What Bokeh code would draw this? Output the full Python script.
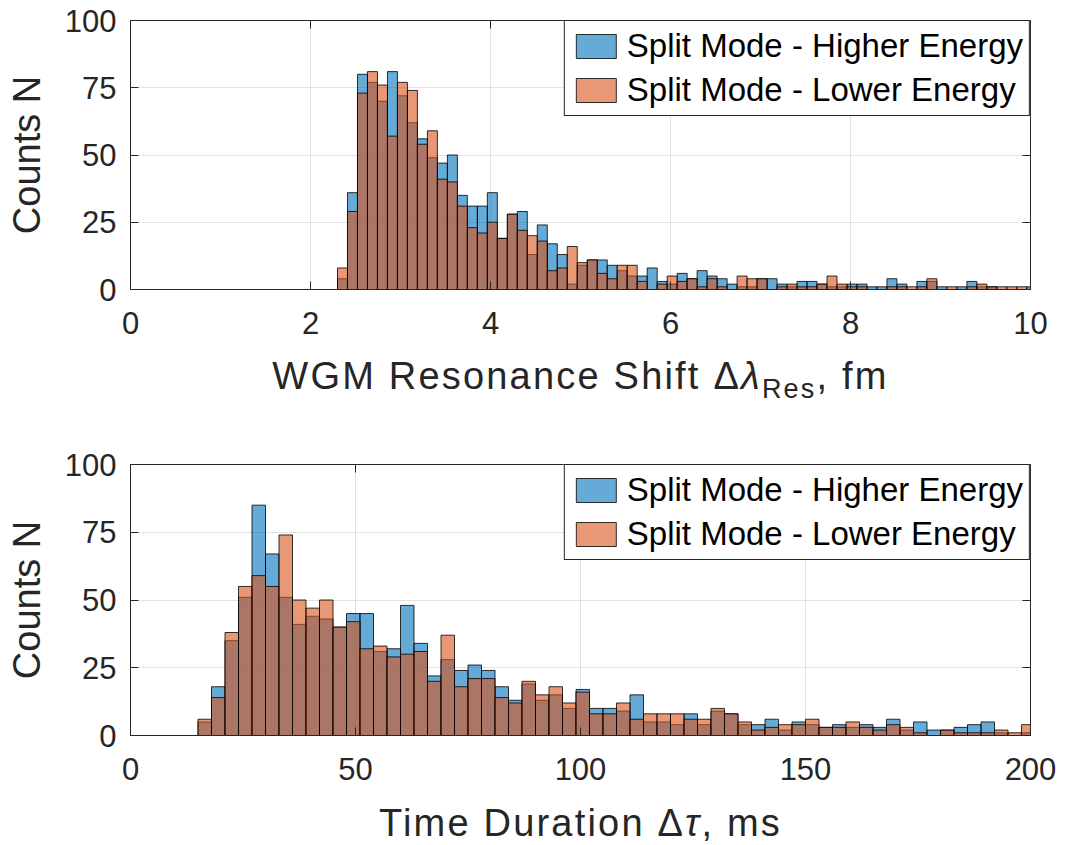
import numpy as np
from bokeh.plotting import figure
from bokeh.models import (ColumnDataSource, Range1d, FixedTicker, LinearAxis, Div,
                          Legend, LegendItem, CustomJSTickFormatter)
from bokeh.layouts import column
from bokeh.embed import file_html
from bokeh.resources import INLINE

# ---------------- data ----------------
shift_bin_start = 2.30
shift_bin_width = 0.111
shift_higher = [4, 36, 80, 77, 70, 81, 72, 62, 56, 49, 47, 50, 35, 31, 31, 36, 19, 28, 29, 13, 24, 17, 13,
                2, 9, 11, 11, 9, 7, 5, 5, 8, 3, 2, 6, 4, 7, 5, 4, 2, 1, 1, 4, 4, 2,
                1, 3, 3, 2, 1, 1, 2, 2, 1, 1, 4, 2, 0, 3, 3, 1, 0, 1, 3, 1, 1, 0, 0, 0, 1]
shift_lower = [8, 29, 73, 81, 76, 57, 77, 74, 54, 59, 41, 40, 31, 23, 21, 25, 19, 28, 22, 20, 18, 7, 8,
               16, 10, 11, 6, 4, 9, 9, 3, 0, 2, 5, 3, 4, 1, 4, 1, 0, 5, 4, 4, 0, 1,
               2, 1, 1, 2, 5, 2, 1, 1, 0, 0, 1, 1, 1, 1, 4, 0, 1, 0, 1, 2, 1, 1, 1, 1, 0]

dur_bin_start = 15
dur_bin_width = 3
dur_higher = [5, 18, 35, 51, 85, 67, 51, 41, 44, 43, 40, 45, 45, 31, 32, 48, 34, 22, 28, 24, 26, 24, 18,
              13, 19, 13, 15, 10, 17, 10, 10, 9, 15, 5, 5, 4, 8, 4, 9, 8, 4, 4, 6, 2, 5, 4, 3, 4,
              3, 4, 3, 6, 2, 5, 2, 2, 3, 4, 5, 1, 0, 1]
dur_lower = [6, 14, 38, 55, 59, 55, 74, 50, 47, 50, 40, 42, 32, 33, 29, 30, 31, 20, 37, 18, 21, 21, 14,
             12, 20, 15, 18, 12, 16, 8, 8, 12, 6, 8, 8, 8, 6, 6, 10, 8, 5, 2, 3, 4, 4, 6, 3, 3,
             5, 3, 2, 4, 3, 1, 0, 2, 1, 1, 1, 2, 1, 4]

series_labels = ["Split Mode - Higher Energy", "Split Mode - Lower Energy"]
y_ticks = [0, 25, 50, 75, 100]
shift_ticks = [0, 2, 4, 6, 8, 10]
dur_ticks = [0, 50, 100, 150, 200]

# ---------------- style ----------------
FONT = "Liberation Sans"
AX = "#262626"
BLUE = (0, 114, 189)
ORANGE = (217, 83, 25)


def hist_source(start, width, counts):
    n = len(counts)
    left = start + width * np.arange(n)
    return ColumnDataSource(dict(left=left, right=left + width, top=np.asarray(counts, float),
                                 bottom=np.zeros(n)))


def make_fig(height, top_b, bottom_b, x_end, x_ticks, start, width, higher, lower):
    p = figure(width=1065, height=height, x_range=Range1d(0, x_end), y_range=Range1d(0, 100),
               output_backend="svg", toolbar_location=None,
               min_border_left=130, min_border_right=35,
               min_border_top=top_b, min_border_bottom=bottom_b)
    p.outline_line_color = AX
    p.outline_line_width = 1
    p.outline_line_alpha = 1

    rh = p.quad(left="left", right="right", top="top", bottom="bottom",
                source=hist_source(start, width, higher),
                fill_color=BLUE, fill_alpha=0.6, line_color="black", line_alpha=0.8, line_width=1)
    rl = p.quad(left="left", right="right", top="top", bottom="bottom",
                source=hist_source(start, width, lower),
                fill_color=ORANGE, fill_alpha=0.6, line_color="black", line_alpha=0.8, line_width=1)

    p.xaxis.ticker = FixedTicker(ticks=x_ticks)
    p.yaxis.ticker = FixedTicker(ticks=y_ticks)
    p.xgrid.ticker = FixedTicker(ticks=x_ticks)
    p.ygrid.ticker = FixedTicker(ticks=y_ticks)
    for g in (p.xgrid, p.ygrid):
        g.grid_line_color = "#e2e2e2"
        g.grid_line_width = 1

    for ax in (p.xaxis, p.yaxis):
        ax.axis_line_color = AX
        ax.major_tick_line_color = AX
        ax.major_tick_in = 8
        ax.major_tick_out = 0
        ax.minor_tick_line_color = None
        ax.major_label_text_font = FONT
        ax.major_label_text_font_size = "31px"
        ax.major_label_text_color = AX
    p.xaxis.major_label_standoff = 22
    p.yaxis.major_label_standoff = 14
    p.yaxis.axis_label = "Counts N"
    p.yaxis.axis_label_text_font = FONT
    p.yaxis.axis_label_text_font_size = "38px"
    p.yaxis.axis_label_text_font_style = "normal"
    p.yaxis.axis_label_text_color = AX
    p.yaxis.axis_label_standoff = 14

    blank = CustomJSTickFormatter(code="return ''")
    ax_top = LinearAxis(ticker=FixedTicker(ticks=x_ticks), formatter=blank, major_label_standoff=0,
                        major_tick_in=8, major_tick_out=0, minor_tick_line_color=None,
                        axis_line_color=None, major_tick_line_color=AX)
    ax_right = LinearAxis(ticker=FixedTicker(ticks=y_ticks), formatter=blank, major_label_standoff=0,
                          major_tick_in=8, major_tick_out=0, minor_tick_line_color=None,
                          axis_line_color=None, major_tick_line_color=AX)
    p.add_layout(ax_top, "above")
    p.add_layout(ax_right, "right")

    legend = Legend(items=[LegendItem(label=series_labels[0], renderers=[rh]),
                           LegendItem(label=series_labels[1], renderers=[rl])],
                    location="top_right", margin=0, padding=6, spacing=6,
                    glyph_width=50, glyph_height=30, label_height=36, label_standoff=6,
                    label_text_font=FONT, label_text_font_size="33px", label_text_color="black",
                    border_line_color=AX, border_line_width=1, border_line_alpha=1,
                    background_fill_color="white", background_fill_alpha=1)
    p.add_layout(legend)
    return p


def axis_title(html, height, pad_top):
    style = ("width:1065px;box-sizing:border-box;padding-left:96px;"
             f"padding-top:{pad_top}px;letter-spacing:2.2px;"
             "text-align:center;white-space:nowrap;font-family:'Liberation Sans';"
             "font-size:38px;line-height:44px;color:#262626;")
    return Div(text=f'<div style="{style}">{html}</div>', width=1065, height=height,
               margin=0)


top = make_fig(350, 20, 61, 10, shift_ticks, shift_bin_start, shift_bin_width,
               shift_higher, shift_lower)
top_title = axis_title('WGM Resonance Shift \u0394<i>\u03bb</i>'
                       '<span style="font-size:27px;vertical-align:-9px;line-height:0">Res</span>, fm',
                       72, 4)

bottom = make_fig(373, 42, 60, 200, dur_ticks, dur_bin_start, dur_bin_width,
                  dur_higher, dur_lower)
bottom_title = axis_title('Time Duration \u0394<i>\u03c4</i>, ms', 50, 6)

layout = column(top, top_title, bottom, bottom_title, spacing=0)
open("out.html", "w").write(file_html(layout, INLINE))
